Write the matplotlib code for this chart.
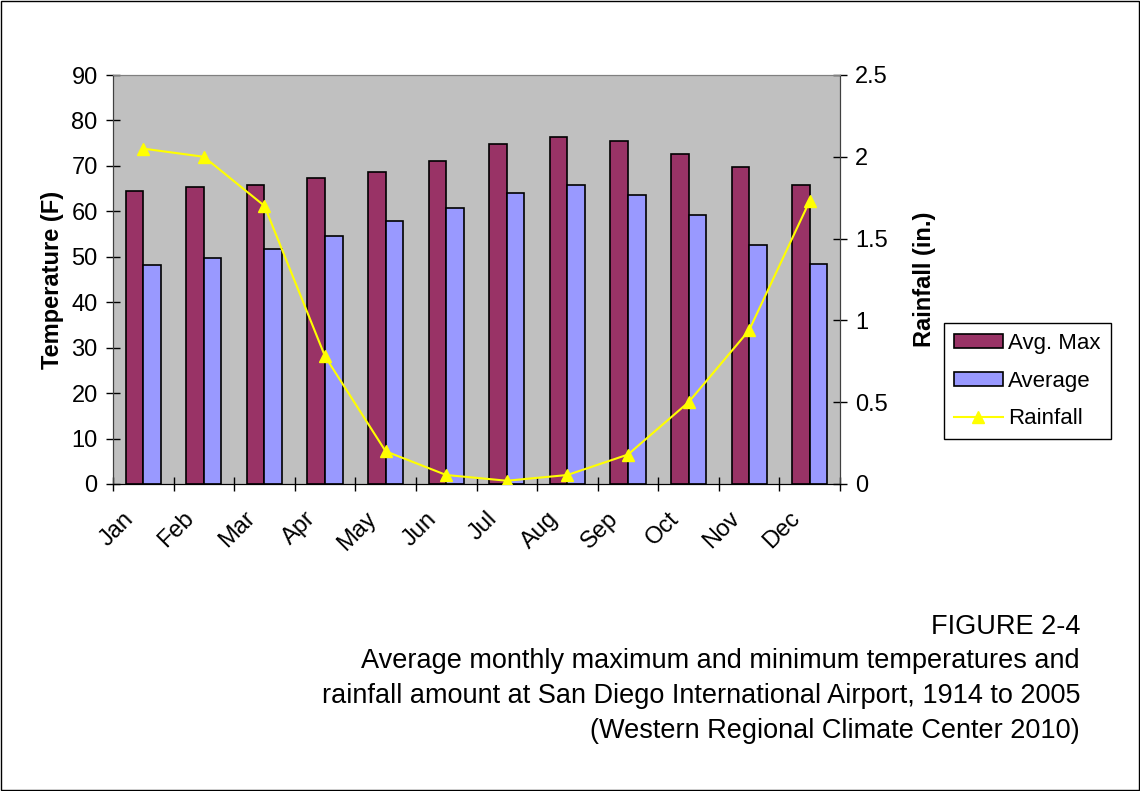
import numpy as np
import matplotlib.pyplot as plt
from matplotlib.patches import Rectangle
from matplotlib.lines import Line2D
from matplotlib.patches import Patch
import matplotlib.transforms as mtransforms

plt.rcParams['font.family'] = ['Liberation Sans', 'DejaVu Sans']

# data
months    = ['Jan', 'Feb', 'Mar', 'Apr', 'May', 'Jun',
             'Jul', 'Aug', 'Sep', 'Oct', 'Nov', 'Dec']
avg_max   = [64.5, 65.4, 65.7, 67.3, 68.6, 71.1, 74.8, 76.4, 75.5, 72.7, 69.8, 65.7]
average   = [48.2, 49.8, 51.8, 54.6, 57.9, 60.8, 64.1, 65.7, 63.7, 59.2, 52.6, 48.5]
rainfall  = [2.05, 2.00, 1.70, 0.78, 0.20, 0.055, 0.02, 0.055, 0.18, 0.50, 0.94, 1.73]

C_MAX  = '#993366'
C_AVG  = '#9999FF'
C_RAIN = '#FFFF00'
C_BG   = '#C0C0C0'
FS = 17

fig = plt.figure(figsize=(11.4, 7.91), dpi=100)
ax = fig.add_axes([113/1140, 1-484/791, (840-113)/1140, (484-75)/791])
ax.set_facecolor(C_BG)

x = np.arange(len(months))
w = 0.29
ax.bar(x - w/2, avg_max, w, color=C_MAX, edgecolor='black', lw=1.2, zorder=2)
ax.bar(x + w/2, average, w, color=C_AVG, edgecolor='black', lw=1.2, zorder=2)
ax.set_xlim(-0.5, 11.5)
ax.set_ylim(0, 90)
ax.set_yticks(np.arange(0, 91, 10))

# category boundary ticks, labels at centres
ax.set_xticks(np.arange(-0.5, 12, 1))
ax.set_xticklabels([])
ax.set_xticks(x, minor=True)
ax.set_xticklabels(months, minor=True, rotation=45, ha='right', va='top', fontsize=FS)
ax.tick_params(axis='x', which='major', direction='inout', length=10, width=1)
ax.tick_params(axis='x', which='minor', length=0, pad=17)
offset = mtransforms.ScaledTranslation(-5/100, 0, fig.dpi_scale_trans)
for lab in ax.get_xticklabels(minor=True):
    lab.set_transform(lab.get_transform() + offset)
ax.tick_params(axis='y', direction='inout', length=10, width=1, labelsize=FS, pad=6)
ax.set_ylabel('Temperature (F)', fontsize=FS, fontweight='bold', labelpad=5)

ax2 = ax.twinx()
ax2.plot(x, rainfall, color=C_RAIN, lw=1.5, marker='^', ms=9, zorder=3)
ax2.set_ylim(0, 2.5)
ax2.set_yticks([0, 0.5, 1, 1.5, 2, 2.5])
ax2.set_yticklabels(['0', '0.5', '1', '1.5', '2', '2.5'])
ax2.tick_params(axis='y', direction='inout', length=10, width=1, labelsize=FS, pad=6)
ax2.set_ylabel('Rainfall (in.)', fontsize=FS, fontweight='bold', rotation=90, labelpad=18)

for a in (ax, ax2):
    a.spines['top'].set_color('#808080')
    a.spines['left'].set_color('#404040')
    a.spines['right'].set_color('#404040')
    a.spines['bottom'].set_color('black')

handles = [Patch(facecolor=C_MAX, edgecolor='black', lw=1.2),
           Patch(facecolor=C_AVG, edgecolor='black', lw=1.2),
           Line2D([], [], color=C_RAIN, lw=1.5, marker='^', ms=9)]
leg = fig.legend(handles, ['Avg. Max', 'Average', 'Rainfall'],
                 loc='upper left', bbox_to_anchor=(944/1140, 1-323/791),
                 fontsize=16, frameon=True, fancybox=False, edgecolor='black',
                 framealpha=1, handlelength=2.2, handleheight=0.6,
                 labelspacing=0.75, borderpad=0.45, handletextpad=0.25,
                 borderaxespad=0)
leg.get_frame().set_linewidth(1)

# caption
caption = ['FIGURE 2-4',
           'Average monthly maximum and minimum temperatures and',
           'rainfall amount at San Diego International Airport, 1914 to 2005',
           '(Western Regional Climate Center 2010)']
for i, line in enumerate(caption):
    fig.text(1080/1140, 1 - (627 + 34.5*i)/791, line, ha='right', va='center',
             fontsize=19.5)

# figure border
fig.patches.append(Rectangle((0.001, 0.001), 0.998, 0.998, transform=fig.transFigure,
                             fill=False, edgecolor='black', lw=1))

fig.savefig('out.png', dpi=100)
